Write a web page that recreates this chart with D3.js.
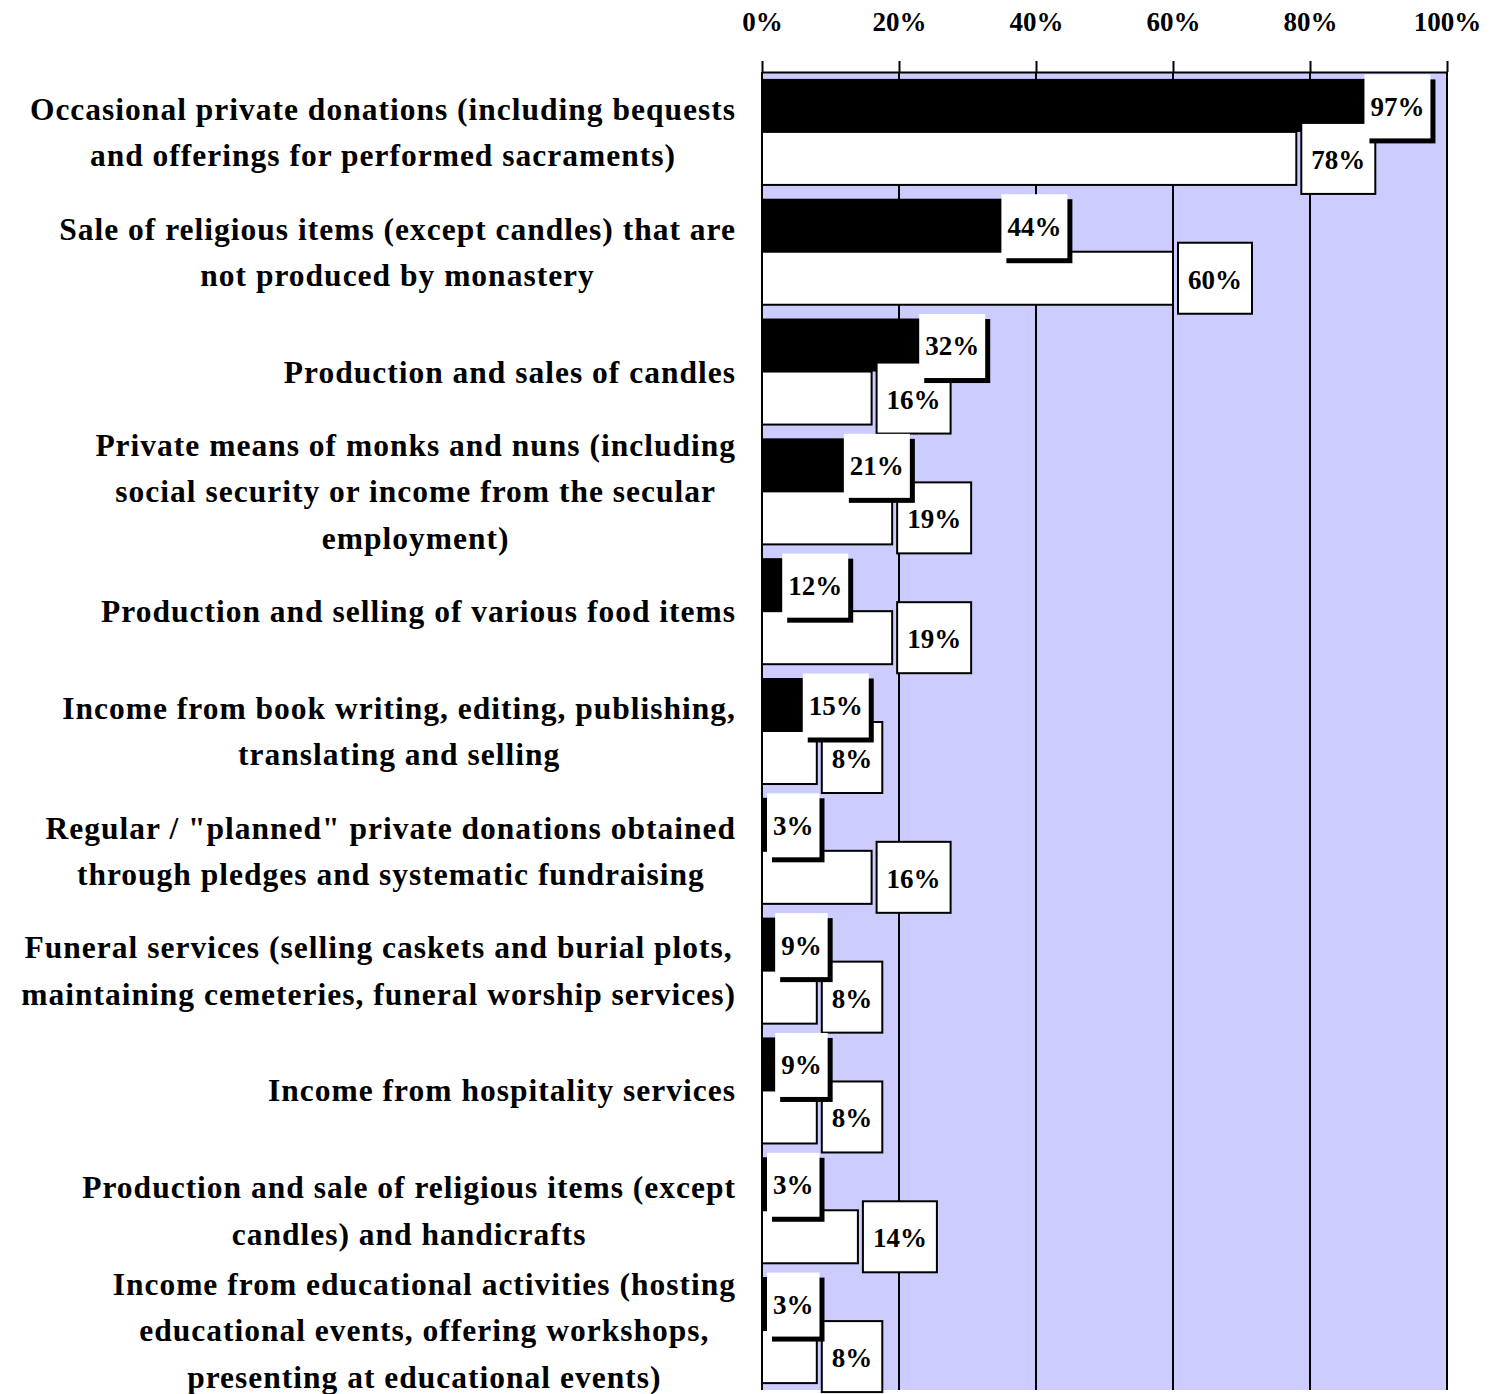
<!DOCTYPE html>
<html>
<head>
<meta charset="utf-8">
<script src="https://cdn.jsdelivr.net/npm/d3@7"></script>
<style>
  body { margin: 0; background: #ffffff; }
  svg { display: block; }
  text { font-family: "Liberation Serif", "DejaVu Serif", serif; font-weight: bold; fill: #000; }
</style>
</head>
<body>
<svg id="chart" width="1495" height="1394"></svg>
<script>
// Income sources, one entry per row; "\n" marks a line break in the label
const categories = [
  "Occasional private donations (including bequests\nand offerings for performed sacraments)",
  "Sale of religious items (except candles) that are\nnot produced by monastery",
  "Production and sales of candles",
  "Private means of monks and nuns (including\nsocial security or income from the secular\nemployment)",
  "Production and selling of various food items",
  "Income from book writing, editing, publishing,\ntranslating and selling",
  "Regular / \"planned\" private donations obtained\nthrough pledges and systematic fundraising",
  "Funeral services (selling caskets and burial plots,\nmaintaining cemeteries, funeral worship services)",
  "Income from hospitality services",
  "Production and sale of religious items (except\ncandles) and handicrafts",
  "Income from educational activities (hosting\neducational events, offering workshops,\npresenting at educational events)"
];

// Share of respondents (%) for the two groups
const seriesDark  = [97, 44, 32, 21, 12, 15, 3, 9, 9, 3, 3];
const seriesLight = [78, 60, 16, 19, 19, 8, 16, 8, 8, 14, 8];

const tickValues = [0, 20, 40, 60, 80, 100];

const svg = d3.select("#chart");
const plot = { left: 762, right: 1447, top: 72, bottom: 1390 };
const labelRight = 736;
const lineH = 46.5;

const x = d3.scaleLinear().domain([0, 100]).range([plot.left, plot.right]);
const y = d3.scaleBand()
  .domain(d3.range(categories.length))
  .range([plot.top, plot.bottom])
  .paddingInner(0.115)
  .paddingOuter(0.0575);
const sub = d3.scaleBand().domain(["dark", "light"]).range([0, y.bandwidth()]);

// plot background
svg.append("rect")
  .attr("x", plot.left).attr("y", plot.top)
  .attr("width", plot.right - plot.left).attr("height", plot.bottom - plot.top)
  .attr("fill", "#ccccff");

// vertical gridlines
svg.append("g").selectAll("line").data(tickValues).join("line")
  .attr("x1", d => x(d)).attr("x2", d => x(d))
  .attr("y1", plot.top).attr("y2", plot.bottom)
  .attr("stroke", "#000").attr("stroke-width", 2);

// top axis
const axis = svg.append("g")
  .attr("transform", `translate(0,${plot.top})`)
  .call(d3.axisTop(x).tickValues(tickValues).tickFormat(d => d + "%")
    .tickSize(11).tickSizeOuter(0).tickPadding(30));
axis.select(".domain").attr("stroke", "#000").attr("stroke-width", 2);
axis.selectAll(".tick line").attr("stroke", "#000").attr("stroke-width", 2);
axis.selectAll(".tick text")
  .style("font-family", "\"Liberation Serif\", serif")
  .style("font-weight", "bold")
  .attr("font-size", 27).attr("fill", "#000");

// bars
const rows = categories.map((c, i) => ({ i, dark: seriesDark[i], light: seriesLight[i] }));

svg.append("g").selectAll("rect").data(rows).join("rect")
  .attr("x", x(0))
  .attr("y", d => y(d.i) + sub("dark"))
  .attr("width", d => x(d.dark) - x(0))
  .attr("height", sub.bandwidth())
  .attr("fill", "#000");

svg.append("g").selectAll("rect").data(rows).join("rect")
  .attr("x", x(0))
  .attr("y", d => y(d.i) + sub("light"))
  .attr("width", d => x(d.light) - x(0))
  .attr("height", sub.bandwidth())
  .attr("fill", "#fff")
  .attr("stroke", "#000").attr("stroke-width", 2);

// value labels of the light series: bordered box outside the bar end
const lightLabels = svg.append("g").selectAll("g").data(rows).join("g");
lightLabels.each(function (d) {
  const g = d3.select(this);
  const cy = y(d.i) + sub("light") + sub.bandwidth() / 2;
  const t = g.append("text").attr("font-size", 27).attr("text-anchor", "middle")
    .attr("dy", "0.35em").text(d.light + "%");
  const w = t.node().getComputedTextLength() + 20;
  const h = 71;
  const left = x(d.light) + 5;
  g.insert("rect", "text")
    .attr("x", left).attr("y", cy - h / 2).attr("width", w).attr("height", h)
    .attr("fill", "#fff").attr("stroke", "#000").attr("stroke-width", 2);
  t.attr("x", left + w / 2).attr("y", cy + 1);
});

// value labels of the dark series: white box with a drop shadow at the bar end
const darkLabels = svg.append("g").selectAll("g").data(rows).join("g");
darkLabels.each(function (d) {
  const g = d3.select(this);
  const cy = y(d.i) + sub("dark") + sub.bandwidth() / 2 + 1;
  const t = g.append("text").attr("font-size", 27).attr("text-anchor", "middle")
    .attr("dy", "0.35em").text(d.dark + "%");
  const w = t.node().getComputedTextLength() + 12;
  const h = 64;
  const left = Math.max(x(d.dark) + 4 - w, x(0) + 5);
  g.insert("rect", "text")
    .attr("x", left + 5).attr("y", cy - h / 2 + 5).attr("width", w).attr("height", h)
    .attr("fill", "#000");
  g.insert("rect", "text")
    .attr("x", left).attr("y", cy - h / 2).attr("width", w).attr("height", h)
    .attr("fill", "#fff");
  t.attr("x", left + w / 2).attr("y", cy);
});

// category labels: centred lines, block right-aligned against the plot
const catLabels = svg.append("g").selectAll("text").data(rows).join("text")
  .attr("font-size", 31.5)
  .style("letter-spacing", "1px")
  .attr("text-anchor", "middle");
catLabels.each(function (d) {
  const t = d3.select(this);
  const lines = categories[d.i].split("\n");
  const cy = y(d.i) + y.bandwidth() / 2;
  const spans = lines.map((ln, k) => t.append("tspan")
    .attr("y", cy + (k - (lines.length - 1) / 2) * lineH)
    .attr("dy", "0.35em")
    .text(ln));
  const blockW = d3.max(spans, s => s.node().getComputedTextLength());
  const cx = Math.max(labelRight - blockW / 2, 8 + blockW / 2);
  spans.forEach(s => s.attr("x", cx));
});
</script>
</body>
</html>
